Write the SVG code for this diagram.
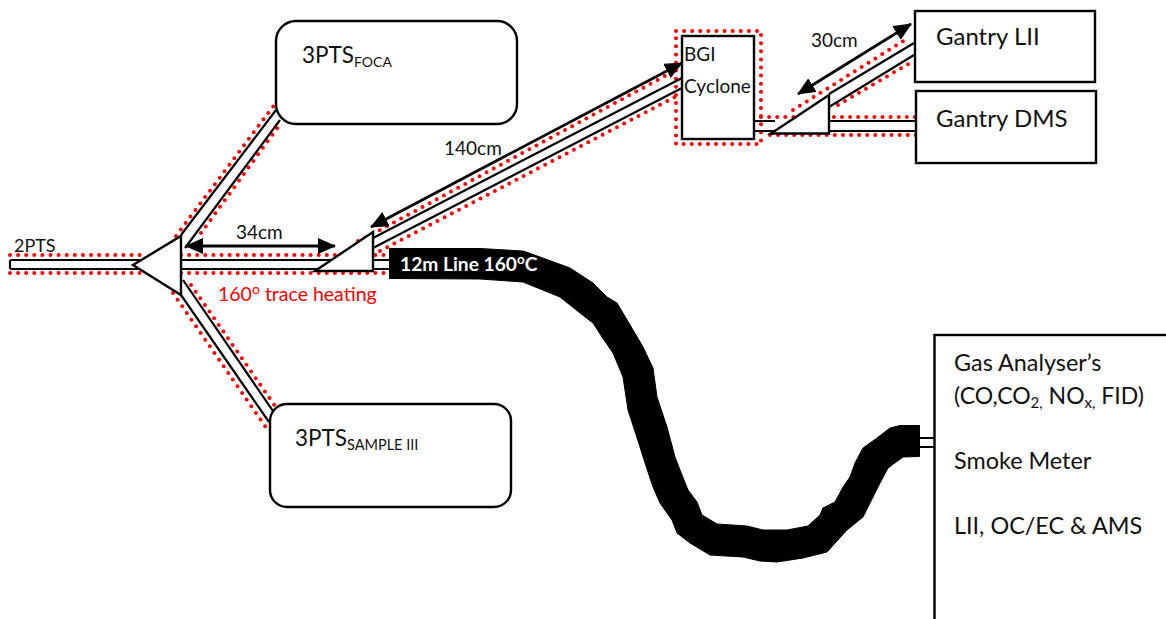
<svg xmlns="http://www.w3.org/2000/svg" width="1166" height="619" viewBox="0 0 1166 619">
<style>
text{font-family:"Lato","Carlito","Liberation Sans",sans-serif;font-size:23.400px;fill:#111}
.s{font-size:19px}
.b{fill:#fff;stroke:#000;stroke-width:2.4}
.p{fill:none;stroke:#000;stroke-width:2.200}
.d{fill:none;stroke:#f00;stroke-width:4;stroke-linecap:round;stroke-dasharray:0 8.100}
.a{fill:none;stroke:#000;stroke-width:2.800}
</style>
<defs>
<marker id="ah" markerUnits="userSpaceOnUse" markerWidth="18" markerHeight="16" refX="17" refY="8" orient="auto-start-reverse"><path d="M0 0L18 8L0 16Z" fill="#000"/></marker>
</defs>
<rect width="1166" height="619" fill="#fff"/>
<g id="connectors">
<path class="d" d="M10 255H140M10 273H140M181 255H392M181 273H392"/>
<path class="d" d="M176 236L275 104M201 233L278 127M173 293L267 429M191 285L275 406"/>
<path class="d" d="M358 241L380 230L676 70M380 251L677 96"/>
<path class="d" d="M676 31H761V144H676Z"/>
<path class="d" d="M761 117H916M770 135H916M793 110L908 38M838 105L910 63"/>
<path class="p" d="M10 260H140M10 269H140M10 260V269M181 260H392M181 269H392"/>
<path class="p" d="M181 235L276 110M185 248L280 120M181 295L269 422M183 280L273 411"/>
<path class="p" d="M373 238L682 78M373 248L682 88"/>
<path class="p" d="M754 121H775M754 131H775M829 121H916M829 131H916M829 94L914 43M829 107L914 55"/>
<path class="p" d="M920 438H934M920 447H934"/>
<path fill="#000" stroke="#000" stroke-width="1" stroke-linejoin="round" d="M389.500 248.500L480 248.500L523 251L540 257L570 268L593 283L607 297L617 303L633 330L643 347L653 368L657 397L667 427L675 457L680 470L688 490L697 502L702 515L717 524L747 526L763 530L787 530L808 526L820 515L823 508L835 502L843 487L850 477L855 463L863 448L877 438L890 428L900 425.500L919.500 425.500L919.500 456.500L903 457L888 468L880 483L873 497L863 517L847 530L827 552L803 558L777 562L760 561L743 557L710 555L690 543L677 533L672 520L660 503L653 487L645 463L640 447L628 410L623 377L613 353L602 337L593 323L580 313L560 297L523 282L480 279L389.500 278.500Z"/>
<path class="a" marker-start="url(#ah)" marker-end="url(#ah)" d="M186 246H335"/>
<path class="a" marker-start="url(#ah)" marker-end="url(#ah)" d="M371 227L682 63"/>
<path class="a" marker-start="url(#ah)" marker-end="url(#ah)" d="M798 94L911 24"/>
</g>
<g id="splitter-main"><path class="b" d="M133 265L181 236V295Z"/></g>
<g id="splitter-mid"><path class="b" d="M315 271L373 232V271Z"/></g>
<g id="splitter-top"><path class="b" d="M771 133.500L829 95V133.500Z"/></g>
<g id="foca"><rect class="b" x="276" y="21" width="241" height="103" rx="20"/><text x="302" y="63" style="font-size:22.500px">3PTS<tspan font-size="14" dy="4">FOCA</tspan></text></g>
<g id="sample"><rect class="b" x="270" y="404" width="241" height="103" rx="17"/><text x="295" y="446" style="font-size:22.500px">3PTS<tspan font-size="14.500" dy="4">SAMPLE III</tspan></text></g>
<g id="cyclone"><rect class="b" x="682" y="36" width="72" height="103"/><text class="s" x="684" y="61">BGI</text><text class="s" x="684" y="93">Cyclone</text></g>
<g id="gantry-lii"><rect class="b" x="915" y="11" width="180" height="71"/><text x="936" y="45" style="font-size:24px">Gantry LII</text></g>
<g id="gantry-dms"><rect class="b" x="916" y="91" width="180" height="72"/><text x="936" y="127" style="font-size:24px">Gantry DMS</text></g>
<g id="analyser"><rect class="b" x="934.500" y="335" width="240" height="300"/>
<text x="954" y="371">Gas Analyser’s</text>
<text x="954" y="404" style="font-size:23px">(CO,CO<tspan font-size="15" dy="4">2,</tspan><tspan dy="-4"> NO</tspan><tspan font-size="15" dy="4">x,</tspan><tspan dy="-4"> FID)</tspan></text>
<text x="954" y="469">Smoke Meter</text>
<text x="954" y="534">LII, OC/EC &amp; AMS</text></g>
<g id="labels">
<text class="s" x="14" y="252" style="font-size:18px">2PTS</text>
<text class="s" x="236" y="239">34cm</text>
<text class="s" x="444" y="155">140cm</text>
<text class="s" x="811" y="47">30cm</text>
<text class="s" x="218" y="301" style="fill:#f00;font-size:19.500px">160<tspan font-size="14" dy="-7">o</tspan><tspan dy="7"> trace heating</tspan></text>
<text class="s" x="400" y="271" style="fill:#fff;font-weight:700;font-size:19.200px">12m Line 160<tspan font-size="13.500" dy="-7">o</tspan><tspan dy="7">C</tspan></text>
</g>
</svg>
